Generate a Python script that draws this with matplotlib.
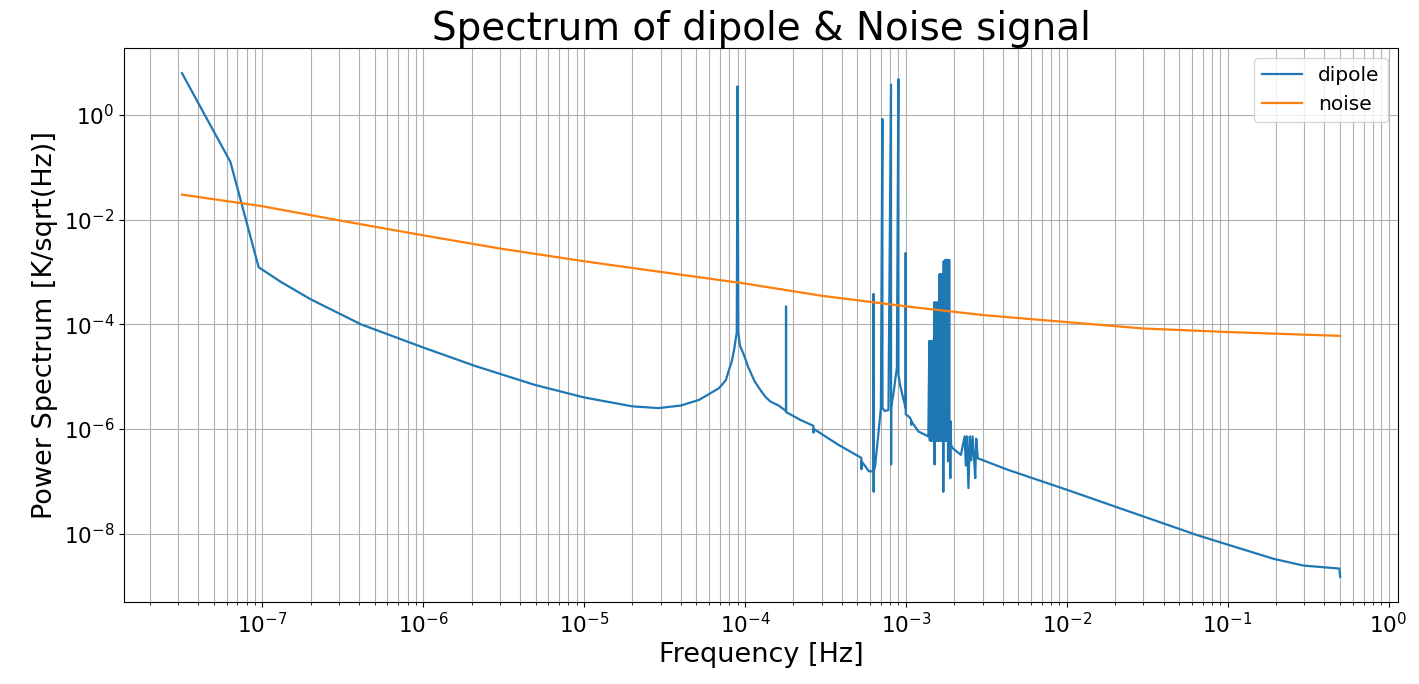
import matplotlib
matplotlib.use("Agg")
import matplotlib.pyplot as plt
from matplotlib.ticker import NullLocator

# %% values
# dipole spectrum, low-frequency part up to the dense block of spikes
freq_low = [
    3.17e-8, 6.34e-8, 9.5e-8, 1.3e-7, 2.0e-7, 4.1e-7, 1.0e-6, 2.1e-6, 4.9e-6,
    1.0e-5, 2.0e-5, 2.9e-5, 4.0e-5, 5.2e-5, 6.9e-5, 7.6e-5, 8.3e-5, 8.6e-5,
    8.9e-5, 9.0e-5, 9.1e-5, 9.3e-5, 1.0e-4, 1.05e-4, 1.15e-4, 1.25e-4,
    1.35e-4, 1.45e-4, 1.62e-4,
    1.800e-4, 1.801e-4, 1.802e-4,
    2.2e-4, 2.66e-4, 2.67e-4, 2.68e-4, 3.8e-4, 5.29e-4, 5.30e-4, 5.31e-4,
    5.9e-4, 6.29e-4, 6.30e-4, 6.31e-4, 6.32e-4, 6.45e-4, 6.6e-4, 6.8e-4, 7.0e-4,
    7.15e-4, 7.16e-4, 7.4e-4, 7.8e-4, 8.09e-4, 8.10e-4, 8.11e-4, 8.4e-4,
    8.8e-4, 8.99e-4, 9.00e-4, 9.2e-4, 9.5e-4, 9.97e-4, 9.98e-4, 9.99e-4,
    1.05e-3, 1.079e-3, 1.080e-3, 1.081e-3, 1.2e-3, 1.38e-3,
]
dipole_low = [
    6.3, 0.127, 1.23e-3, 6.5e-4, 3.0e-4, 1.0e-4, 3.6e-5, 1.6e-5, 7.0e-6,
    4.0e-6, 2.7e-6, 2.5e-6, 2.8e-6, 3.6e-6, 6.0e-6, 8.5e-6, 2.0e-5, 3.5e-5,
    7.0e-5, 3.5, 7.0e-5, 4.0e-5, 2.3e-5, 1.5e-5, 8.1e-6, 5.5e-6,
    4.0e-6, 3.3e-6, 2.8e-6,
    2.2e-6, 2.2e-4, 2.1e-6,
    1.5e-6, 1.15e-6, 8.5e-7, 1.0e-6, 5.0e-7, 2.8e-7, 1.7e-7, 2.4e-7,
    1.55e-7, 1.55e-7, 3.8e-4, 6.3e-8, 1.5e-7, 2.0e-7, 4.0e-7, 1.0e-6, 2.5e-6,
    0.83, 2.5e-6, 2.2e-6, 2.3e-6, 3.8, 2.1e-7, 2.6e-6, 5.0e-6,
    1.5e-5, 4.8, 1.1e-5, 7.0e-6, 4.6e-6, 2.5e-6, 2.3e-3, 1.9e-6,
    1.7e-6, 1.5e-6, 1.2e-6, 1.4e-6, 8.9e-7, 7.2e-7,
]

# dense block of spikes, 1.4e-3 .. 1.91e-3 Hz (alternating top / bottom)
freq_block = [
    1.40e-3, 1.41e-3, 1.42e-3, 1.43e-3, 1.44e-3, 1.45e-3, 1.46e-3, 1.47e-3,
    1.48e-3, 1.49e-3, 1.50e-3, 1.51e-3, 1.52e-3, 1.53e-3, 1.54e-3, 1.55e-3,
    1.56e-3, 1.57e-3, 1.58e-3, 1.59e-3, 1.60e-3, 1.61e-3, 1.62e-3, 1.63e-3,
    1.64e-3, 1.65e-3, 1.66e-3, 1.67e-3, 1.68e-3, 1.69e-3, 1.70e-3, 1.71e-3,
    1.72e-3, 1.73e-3, 1.74e-3, 1.75e-3, 1.76e-3, 1.77e-3, 1.78e-3, 1.79e-3,
    1.80e-3, 1.81e-3, 1.82e-3, 1.83e-3, 1.84e-3, 1.85e-3, 1.86e-3, 1.87e-3,
    1.88e-3, 1.89e-3, 1.90e-3, 1.91e-3,
]
dipole_block = [
    4.8e-5, 6.0e-7, 4.8e-5, 6.0e-7, 4.8e-5, 6.0e-7, 4.8e-5, 6.0e-7,
    4.8e-5, 6.0e-7, 2.6e-4, 2.1e-7, 2.6e-4, 6.0e-7, 2.6e-4, 6.0e-7,
    2.6e-4, 6.0e-7, 2.6e-4, 6.0e-7, 2.6e-4, 6.0e-7, 9.0e-4, 6.0e-7,
    9.0e-4, 6.0e-7, 9.0e-4, 6.0e-7, 9.0e-4, 6.0e-7, 9.0e-4, 6.3e-8,
    1.6e-3, 6.0e-7, 1.6e-3, 6.0e-7, 1.7e-3, 6.0e-7, 1.7e-3, 6.0e-7,
    1.7e-3, 6.0e-7, 1.7e-3, 2.4e-7, 1.7e-3, 6.0e-7, 1.7e-3, 6.0e-7,
    1.4e-6, 1.15e-7, 1.4e-6, 5.0e-7,
]

# high-frequency part, with the small cluster near 2.5e-3 Hz
freq_high = [
    1.95e-3, 2.2e-3,
    2.32e-3, 2.36e-3, 2.40e-3, 2.45e-3, 2.50e-3, 2.55e-3, 2.60e-3, 2.65e-3,
    2.70e-3, 2.74e-3,
    2.8e-3, 4.3e-3, 1.0e-2, 1.52e-2, 6.5e-2, 0.193, 0.296, 0.455, 0.495, 0.5,
]
dipole_high = [
    4.3e-7, 3.2e-7,
    7.2e-7, 2.0e-7, 7.2e-7, 7.4e-8, 7.2e-7, 2.5e-7, 7.2e-7, 3.0e-7,
    1.15e-7, 6.5e-7,
    2.75e-7, 1.66e-7, 6.9e-8, 4.4e-8, 9.3e-9, 3.3e-9, 2.45e-9, 2.2e-9, 2.15e-9, 1.5e-9,
]

# noise curve
freq_noise = [3.17e-8, 1e-7, 3.1e-7, 1e-6, 3e-6, 1e-5, 3e-5, 1e-4, 3e-4,
              1e-3, 3e-3, 1e-2, 3e-2, 1e-1, 0.5]
noise = [3.0e-2, 1.8e-2, 9.5e-3, 5.0e-3, 2.8e-3, 1.6e-3, 1.0e-3, 6.0e-4, 3.5e-4,
         2.2e-4, 1.5e-4, 1.1e-4, 8.3e-5, 7.1e-5, 6.0e-5]

x_ticks = [1e-7, 1e-6, 1e-5, 1e-4, 1e-3, 1e-2, 1e-1, 1e0]
y_ticks = [1e-8, 1e-6, 1e-4, 1e-2, 1e0]

freq_dipole = freq_low + freq_block + freq_high
dipole = dipole_low + dipole_block + dipole_high

# %% plot
fig = plt.figure(figsize=(14.19, 6.84), dpi=100)
ax = fig.add_axes([0.0874, 0.12, 0.8978, 0.81])
ax.loglog(freq_dipole, dipole, lw=1.6, label="dipole")
ax.loglog(freq_noise, noise, lw=1.6, label="noise")
ax.set_xticks(x_ticks)
ax.set_yticks(y_ticks)
ax.yaxis.set_minor_locator(NullLocator())
ax.grid(True, which="both", axis="x")
ax.grid(True, which="major", axis="y")
ax.set_title("Spectrum of dipole & Noise signal", fontsize=28)
ax.set_xlabel("Frequency [Hz]", fontsize=19.5)
ax.set_ylabel("Power Spectrum [K/sqrt(Hz)]", fontsize=19.5)
ax.tick_params(labelsize=15.5)
ax.legend(loc="upper right", fontsize=14.5)
fig.savefig("out.png", dpi=100)
